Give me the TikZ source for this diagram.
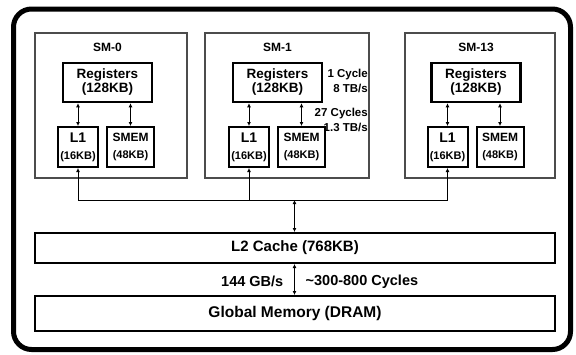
\documentclass[tikz,border=0pt]{standalone}
\usepackage{fontspec}
\setmainfont{Liberation Sans}
\usetikzlibrary{arrows.meta,positioning}
\tikzset{
  frame/.style   = {draw=black, line width=5pt, rounded corners=18pt},
  smbox/.style   = {draw=black!70, line width=1.3pt, minimum width=#1,
                    minimum height=145pt, inner sep=0pt},
  smbox/.default = 152pt,
  smname/.style  = {font=\fontsize{12}{13}\selectfont\bfseries, inner sep=0pt},
  regbox/.style  = {draw=black, line width=2.5pt, minimum width=89pt, minimum height=39pt,
                    align=center, inner sep=0pt, font=\fontsize{13.5}{14}\selectfont\bfseries},
  unitbox/.style = {draw=black, line width=2pt, minimum width=#1, minimum height=40pt,
                    align=center, inner sep=0pt, font=\fontsize{11}{12}\selectfont\bfseries},
  membox/.style  = {draw=black, line width=2pt, minimum width=520pt, minimum height=#1,
                    inner sep=0pt, font=\fontsize{15}{16}\selectfont\bfseries},
  ar/.style      = {{Latex[length=4pt,width=4pt]}-{Latex[length=4pt,width=4pt]}, line width=1pt},
  arup/.style    = {-{Latex[length=4pt,width=4pt]}, line width=1pt},
  lbl/.style     = {font=\fontsize{14.5}{15}\selectfont\bfseries, inner sep=0pt},
  sidelbl/.style = {font=\fontsize{11.5}{15}\selectfont\bfseries, align=right, inner sep=0pt},
}
\begin{document}
\begin{tikzpicture}[x=1pt,y=-1pt]
  \useasboundingbox (0,0) rectangle (576,354);
  \draw[frame] (13.5,9) rectangle (570.5,349.5);

  % SM-0
  \node[smbox=152pt] (sm0) at (111,105.5) {};
  \node[regbox] (reg0) at (107.5,82.5) {Registers\\(128KB)};
  \node[smname, above=10pt of reg0] (name0) {SM-0};
  \node[unitbox=40pt] (l1a) at (78,147) {{\fontsize{14}{14}\selectfont L1}\\[5pt](16KB)};
  \node[unitbox=47pt, right=7pt of l1a] (smem0) {{\fontsize{12}{12}\selectfont SMEM}\\[5pt](48KB)};

  % SM-1
  \node[smbox=164pt] (sm1) at (287,105.5) {};
  \node[regbox] (reg1) at (277.5,82.5) {Registers\\(128KB)};
  \node[smname, above=10pt of reg1] (name1) {SM-1};
  \node[unitbox=40pt] (l1b) at (249,147) {{\fontsize{14}{14}\selectfont L1}\\[5pt](16KB)};
  \node[unitbox=47pt, right=7pt of l1b] (smem1) {{\fontsize{12}{12}\selectfont SMEM}\\[5pt](48KB)};
  \node[sidelbl, anchor=east] (regspeed) at (368,81) {1 Cycle\\8 TB/s};
  \node[sidelbl, anchor=east] (smemspeed) at (368,120) {27 Cycles\\1.3 TB/s};

  % SM-13
  \node[smbox=150pt] (sm13) at (480,105.5) {};
  \node[regbox] (reg13) at (476,82.5) {Registers\\(128KB)};
  \node[smname, above=10pt of reg13] (name13) {SM-13};
  \node[unitbox=40pt] (l1c) at (447.5,147) {{\fontsize{14}{14}\selectfont L1}\\[5pt](16KB)};
  \node[unitbox=47pt, right=7pt of l1c] (smem13) {{\fontsize{12}{12}\selectfont SMEM}\\[5pt](48KB)};

  % registers <-> L1 / SMEM
  \draw[ar] (reg0.south -| l1a) -- (l1a.north);
  \draw[ar] (reg0.south -| smem0) -- (smem0.north);
  \draw[ar] (reg1.south -| l1b) -- (l1b.north);
  \draw[ar] (reg1.south -| smem1) -- (smem1.north);
  \draw[ar] (reg13.south -| l1c) -- (l1c.north);
  \draw[ar] (reg13.south -| smem13) -- (smem13.north);

  % bus to L2
  \coordinate (bus) at (294.5,200);
  \draw[line width=1pt] (l1a.south |- bus) -- (l1c.south |- bus);
  \draw[arup] (l1a.south |- bus) -- (l1a.south);
  \draw[arup] (l1b.south |- bus) -- (l1b.south);
  \draw[arup] (l1c.south |- bus) -- (l1c.south);

  \node[membox=30pt] (l2) at (295,248) {L2 Cache (768KB)};
  \node[membox=35pt] (dram) at (295,313.5) {\fontsize{15.5}{16}\selectfont Global Memory (DRAM)};

  \draw[ar] (bus) -- (bus |- l2.north);
  \draw[ar] (l2.south -| bus) -- (dram.north -| bus);
  \path (l2.south -| bus) -- (dram.north -| bus)
     node[lbl, midway, left=11pt, yshift=-2pt] (bw) {144 GB/s}
     node[lbl, midway, right=11pt, yshift=-2pt] (lat) {\textasciitilde300-800 Cycles};
\end{tikzpicture}
\end{document}
